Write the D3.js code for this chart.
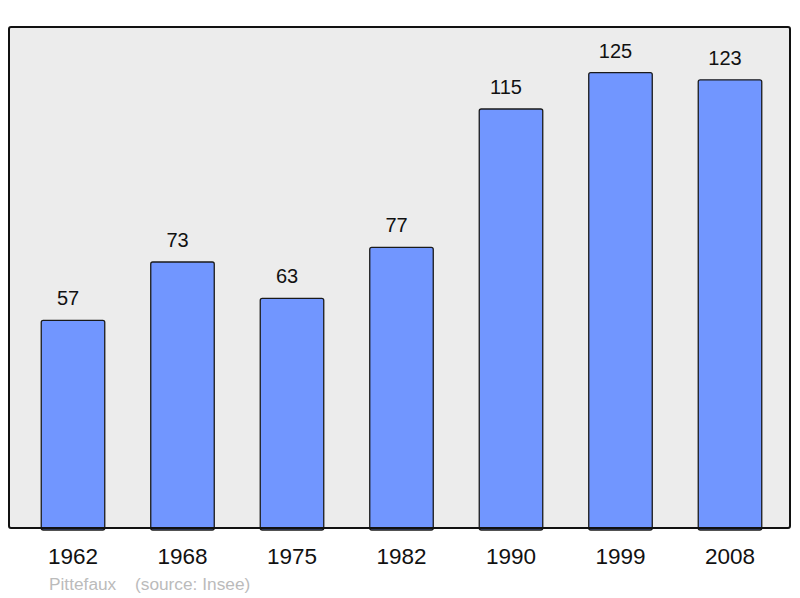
<!DOCTYPE html>
<html>
<head>
<meta charset="utf-8">
<script src="https://cdn.jsdelivr.net/npm/d3@7"></script>
<style>
  body { margin: 0; background: #fff; }
  text { font-family: "Liberation Sans", Arial, sans-serif; }
</style>
</head>
<body>
<svg id="chart" width="800" height="598"></svg>
<script>
const years = ["1962", "1968", "1975", "1982", "1990", "1999", "2008"];
const population = [57, 73, 63, 77, 115, 125, 123];
const place = "Pittefaux";
const source = "(source: Insee)";

const svg = d3.select("#chart");

const frame = { left: 9, top: 27, right: 790, bottom: 528 };

const x = d3.scaleBand()
    .domain(years)
    .range([18.25, 784.75])
    .paddingInner(0.42)
    .paddingOuter(0.21);

const y = d3.scaleLinear()
    .domain([0, d3.max(population) * 1.1])
    .range([frame.bottom, frame.top]);

// background
svg.append("rect")
    .attr("x", frame.left)
    .attr("y", frame.top)
    .attr("width", frame.right - frame.left)
    .attr("height", frame.bottom - frame.top)
    .attr("fill", "#ececec");

const data = years.map((yr, i) => ({ year: yr, value: population[i] }));

svg.append("g")
    .selectAll("rect")
    .data(data)
    .enter().append("rect")
    .attr("x", d => x(d.year))
    .attr("y", d => y(d.value))
    .attr("width", x.bandwidth())
    .attr("height", d => frame.bottom - y(d.value) + 2)
    .attr("rx", 2)
    .attr("fill", "#7196ff")
    .attr("stroke", "#1a1a1a")
    .attr("stroke-width", 1.3);

// value labels
svg.append("g")
    .selectAll("text")
    .data(data)
    .enter().append("text")
    .attr("x", d => x(d.year) + x.bandwidth() / 2 - 5)
    .attr("y", d => y(d.value) - 15)
    .attr("text-anchor", "middle")
    .style("font-size", "20px")
    .attr("fill", "#111")
    .text(d => d.value);

// frame border
svg.append("rect")
    .attr("x", frame.left)
    .attr("y", frame.top)
    .attr("width", frame.right - frame.left)
    .attr("height", frame.bottom - frame.top)
    .attr("rx", 2)
    .attr("fill", "none")
    .attr("stroke", "#111")
    .attr("stroke-width", 2);

// year axis labels
svg.append("g")
    .selectAll("text")
    .data(years)
    .enter().append("text")
    .attr("x", d => x(d) + x.bandwidth() / 2)
    .attr("y", 564)
    .attr("text-anchor", "middle")
    .style("font-size", "22.5px")
    .attr("fill", "#111")
    .text(d => d);

// footer
svg.append("text")
    .attr("x", 49)
    .attr("y", 590)
    .style("font-size", "17.3px")
    .attr("fill", "#bbbbbb")
    .text(place);

svg.append("text")
    .attr("x", 135)
    .attr("y", 590)
    .style("font-size", "17.3px")
    .attr("fill", "#bbbbbb")
    .text(source);
</script>
</body>
</html>
